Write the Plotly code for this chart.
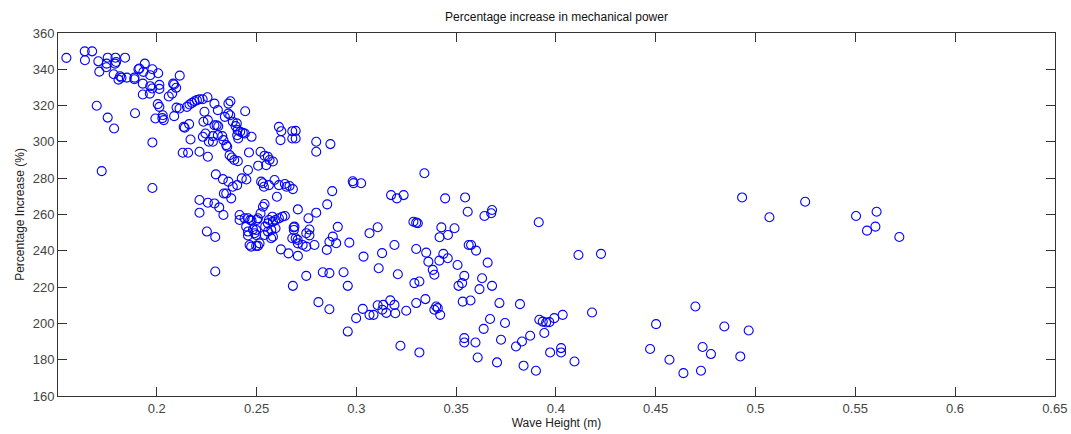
import plotly.graph_objects as go

wave_height = [
0.1547,0.1639,0.1676,0.1640,0.1707,0.1712,0.1754,0.1749,0.1747,0.1793,0.1791,0.1796,0.1784,0.1808,0.1816,0.1823,0.1841,0.1850,0.1888,0.1888,
0.1908,0.1913,0.1940,0.1933,0.1930,0.1930,0.1965,0.1967,0.1967,0.1978,0.2007,0.2013,0.2013,0.1977,0.1699,0.1754,0.1786,0.1891,0.1724,0.1978,
0.1978,0.2005,0.2013,0.1993,0.2028,0.2035,0.2030,0.2060,0.2077,0.2087,0.2097,0.2082,0.2115,0.2087,0.2099,0.2114,0.2140,0.2135,0.2162,0.2169,
0.2130,0.2157,0.2151,0.2164,0.2177,0.2189,0.2201,0.2214,0.2230,0.2254,0.2214,0.2256,0.2239,0.2234,0.2256,0.2231,0.2244,0.2261,0.2289,0.2306,
0.2289,0.2300,0.2308,0.2281,0.2306,0.2281,0.2328,0.2334,0.2348,0.2353,0.2341,0.2358,0.2368,0.2359,0.2369,0.2381,0.2395,0.2401,0.2405,0.2403,
0.2408,0.2418,0.2431,0.2441,0.2443,0.2475,0.2365,0.2376,0.2388,0.2406,0.2462,0.2457,0.2449,0.2426,0.2359,0.2331,0.2296,0.2348,0.2373,0.2381,
0.2403,0.2336,0.2214,0.2214,0.2256,0.2289,0.2313,0.2334,0.2251,0.2293,0.2293,0.2415,0.2415,0.2440,0.2448,0.2458,0.2468,0.2475,0.2457,0.2465,
0.2498,0.2507,0.2515,0.2490,0.2498,0.2502,0.2507,0.2520,0.2532,0.2540,0.2508,0.2520,0.2540,0.2557,0.2565,0.2582,0.2548,0.2523,0.2532,0.2537,
0.2562,0.2590,0.2612,0.2602,0.2642,0.2650,0.2682,0.2612,0.2624,0.2620,0.2679,0.2679,0.2696,0.2696,0.2543,0.2557,0.2562,0.2579,0.2595,0.2612,
0.2629,0.2642,0.2595,0.2540,0.2573,0.2622,0.2660,0.2682,0.2690,0.2687,0.2679,0.2696,0.2707,0.2707,0.2707,
0.2665,0.2457,0.2482,0.2498,0.2473,0.2582,0.2557,0.2574,0.2582,
0.2686,0.2765,0.2765,0.2749,0.2706,0.2731,0.2790,0.2749,0.2760,0.2799,0.2749,
0.2799,0.2799,0.2870,0.2982,0.2986,0.3024,0.2879,0.2854,0.2907,0.2882,0.2865,0.2852,0.2899,0.2965,0.3066,0.3107,0.3129,0.3036,0.3112,0.2832,
0.2865,0.2936,0.2957,0.2810,0.2865,0.2957,0.2999,0.3032,0.3066,0.3086,0.3107,0.3135,0.3130,0.3150,0.3170,0.3191,0.3195,0.3250,
0.3174,0.3203,0.3237,0.3341,0.3445,0.3545,0.3558,0.3286,0.3300,0.3308,0.3426,0.3492,0.3459,0.3417,0.3191,0.3300,0.3350,0.3436,0.3458,0.3416,
0.3507,0.3563,0.3541,0.3208,0.3361,0.3383,0.3391,0.3300,0.3346,0.3291,0.3316,0.3400,0.3408,0.3391,0.3420,0.3221,0.3316,0.3512,0.3530,0.3533,
0.3541,0.3541,0.3642,0.3676,0.3680,0.3914,0.4113,0.4226,0.3575,0.3600,0.3658,0.3630,0.3680,0.3617,0.3572,0.3717,0.3820,0.3670,0.3745,0.3638,
0.3597,0.3725,0.3608,0.3705,0.3800,0.3830,0.3871,0.3942,0.3917,0.3934,0.3951,0.3967,0.3992,0.4034,0.4181,0.3838,0.3900,0.3971,0.4026,0.4026,
0.4093,0.4933,0.5070,0.4699,0.4502,0.4844,0.4966,0.4472,0.4569,0.4735,0.4777,0.4924,0.4639,0.4727,0.5249,0.5504,0.5607,0.5559,0.5601,0.5721,
]

pct_increase = [
346.3,349.9,349.9,345.0,344.4,338.7,346.4,343.1,341.1,346.4,343.1,344.0,337.3,334.3,336.2,335.4,346.4,335.4,335.4,334.5,
340.0,340.4,343.1,338.6,332.1,326.1,326.6,330.7,336.7,340.0,337.8,331.4,329.2,329.4,319.9,313.4,307.4,315.8,283.9,299.7,
274.6,320.8,319.3,312.9,313.1,312.0,314.7,325.0,326.6,331.6,329.8,332.1,336.5,314.2,318.9,318.4,307.8,308.3,309.8,301.3,
294.0,294.0,319.3,320.6,321.5,322.4,323.0,323.5,323.5,324.6,294.6,291.8,316.6,311.1,312.0,302.8,304.6,300.1,321.1,317.5,
309.2,309.2,308.6,303.2,303.7,300.1,303.2,301.0,298.2,297.3,313.8,315.6,314.7,321.1,322.4,311.1,308.7,310.2,306.5,303.7,
301.9,305.6,305.0,304.6,316.9,302.8,292.7,291.4,290.0,289.4,294.2,284.5,279.3,279.9,278.1,279.5,282.1,271.6,268.9,275.3,
276.2,271.6,268.0,261.0,266.5,266.1,263.9,259.7,250.6,247.6,228.6,259.7,257.0,257.9,253.3,257.9,257.0,256.6,248.4,243.2,
242.7,242.7,244.1,249.7,251.5,257.0,257.9,260.6,264.3,265.8,286.9,294.6,292.4,291.8,290.0,289.2,287.2,278.1,277.2,275.3,
276.2,279.0,276.2,269.8,276.8,275.3,274.0,308.3,305.9,301.0,305.9,301.9,306.1,301.9,253.3,255.1,257.0,258.8,257.0,257.9,
258.8,259.2,252.4,248.7,246.9,240.8,238.6,220.7,253.3,251.5,246.9,246.9,244.1,237.2,262.8,
275.7,250.6,251.8,248.7,242.3,256.1,250.6,251.5,247.8,
252.9,251.7,248.5,249.7,246.0,243.2,243.2,242.3,257.9,261.0,226.2,
300.1,294.6,298.8,278.3,277.3,277.2,272.9,265.6,253.2,247.8,245.0,240.5,244.2,244.5,249.7,253.0,238.7,236.8,230.4,228.2,
227.7,228.2,220.7,211.7,207.8,195.5,202.9,208.0,204.7,204.7,210.0,210.2,207.5,205.8,212.7,210.2,205.6,207.0,
270.7,268.9,270.7,282.7,268.9,269.4,261.5,256.0,255.5,255.2,252.9,252.4,248.7,247.5,243.2,241.0,239.0,238.3,235.9,234.6,
232.2,243.2,226.2,227.1,234.0,229.5,226.8,211.2,213.4,222.2,223.1,209.3,208.4,207.5,204.7,187.7,184.0,220.7,222.2,212.0,
191.9,189.5,259.2,260.7,262.5,255.7,237.7,238.3,243.2,240.1,233.5,224.9,220.7,218.9,212.6,211.2,210.6,202.4,200.2,197.0,
189.5,191.0,181.2,178.5,187.3,190.0,193.2,194.7,202.0,201.0,200.5,200.7,202.9,204.7,206.0,176.7,173.9,184.0,186.4,184.0,
179.0,269.4,258.5,209.3,199.6,198.3,196.1,185.9,180.0,187.0,183.1,181.8,172.6,173.9,267.0,259.2,261.5,251.1,253.3,247.6,
]

x_ticks = [0.2, 0.25, 0.3, 0.35, 0.4, 0.45, 0.5, 0.55, 0.6, 0.65]
x_tick_labels = ["0.2", "0.25", "0.3", "0.35", "0.4", "0.45", "0.5", "0.55", "0.6", "0.65"]
y_ticks = [160, 180, 200, 220, 240, 260, 280, 300, 320, 340, 360]

FONT = "Liberation Sans, Arial, sans-serif"

fig = go.Figure(go.Scatter(
    x=wave_height, y=pct_increase, mode="markers",
    marker=dict(symbol="circle-open", size=9, color="#0000ff", line=dict(width=1.1, color="#0000ff")),
    showlegend=False, hoverinfo="x+y",
))

axis_common = dict(
    showline=True, linecolor="#333333", linewidth=1, mirror="ticks",
    ticks="inside", ticklen=9, tickcolor="#333333", tickwidth=1,
    showgrid=False, zeroline=False, automargin=False,
    tickfont=dict(family=FONT, size=13, color="#444444"),
)

fig.update_layout(
    width=1071, height=434,
    margin=dict(l=58, r=16, t=33, b=38),
    paper_bgcolor="white", plot_bgcolor="white",
    title=dict(text="Percentage increase in mechanical power", x=0.5, xref="paper",
               y=1 - 17 / 434, yanchor="middle", automargin=False,
               font=dict(family=FONT, size=12, color="#111111")),
    xaxis=dict(range=[0.1505, 0.6501], tickvals=x_ticks, ticktext=x_tick_labels,
               title=dict(text="Wave Height (m)", standoff=2,
                          font=dict(family=FONT, size=12, color="#222222")),
               **axis_common),
    yaxis=dict(range=[160, 360], tickvals=y_ticks,
               title=dict(text="Percentage Increase (%)", standoff=5,
                          font=dict(family=FONT, size=12, color="#222222")),
               **axis_common),
)

fig.write_html(
    "out.html",
    config={"displayModeBar": False},
    post_script="document.body.style.margin='0';document.body.style.overflow='hidden';",
)
